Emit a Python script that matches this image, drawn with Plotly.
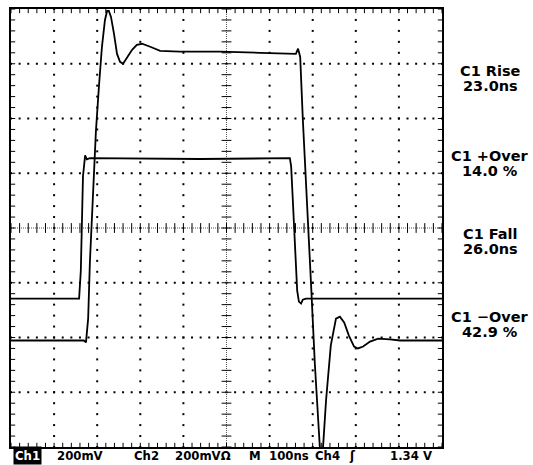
import plotly.graph_objects as go

# scope settings: 100 ns/div, 200 mV/div, 10 x 8 divisions
T_DIV = 100
V_DIV = 200

# channel 1 (large overshoot / undershoot)
ch1_t = [0, 169, 174, 179, 183, 188, 193, 197, 204, 211, 218, 223, 227, 232, 239, 246,
         253, 260, 269, 281, 292, 304, 323, 346, 392, 485, 578, 661, 666, 671, 677, 687,
         696, 705, 715, 719, 724, 731, 742, 754, 763, 773, 784, 796, 805, 817, 833, 852,
         879, 903, 1000]
ch1_v = [-411, -411, -418, -331, -127, 55, 225, 353, 516, 662, 760, 793, 793, 771, 709, 636,
         607, 600, 622, 651, 669, 673, 662, 647, 644, 644, 640, 636, 655, 625, 400, 102,
         -200, -498, -800, -865, -800, -629, -429, -331, -324, -345, -393, -433, -440, -433, -415, -404,
         -407, -411, -411]

# channel 2 (clean pulse)
ch2_t = [0, 158, 162, 165, 167, 172, 176, 183, 439, 647, 650, 654, 659, 664, 668, 673, 677, 684, 1000]
ch2_v = [-258, -258, -156, 25, 189, 265, 251, 255, 252, 255, 225, 98, -84, -229, -269, -276, -262, -258, -258]

# measurement readouts on the right
meas_names = ["C1 Rise", "C1 +Over", "C1 Fall", "C1 \u2212Over"]
meas_values = ["23.0ns", "14.0 %", "26.0ns", "42.9 %"]

# status bar at the bottom
status_items = ["Ch1", "200mV", "Ch2", "200mV\u03a9", "M", "100ns", "Ch4", "\u0283", "1.34 V"]

W, H = 533, 465
L, R, T, B = 11, 442, 7, 447


def px(x):
    return (x - L) / (R - L)


def py(y):
    return (B - y) / (B - T)


fig = go.Figure()

# dotted graticule
gx, gy = [], []
for k in range(-3, 4):
    if k == 0:
        continue
    for m in range(51):
        gx.append(m * T_DIV / 5)
        gy.append(k * V_DIV)
for k in range(1, 10):
    if k == 5:
        continue
    for m in range(41):
        gx.append(k * T_DIV)
        gy.append(-4 * V_DIV + m * V_DIV / 5)
fig.add_trace(go.Scatter(x=gx, y=gy, mode="markers",
                         marker=dict(symbol="square", size=2, color="black", line_width=0),
                         hoverinfo="skip"))

# centre crosshair
fig.add_trace(go.Scatter(x=[0, 10 * T_DIV], y=[0, 0], mode="lines",
                         line=dict(color="#555", width=1, dash="1px,1px"), hoverinfo="skip"))
fig.add_trace(go.Scatter(x=[5 * T_DIV, 5 * T_DIV], y=[-4 * V_DIV, 4 * V_DIV], mode="lines",
                         line=dict(color="#555", width=1, dash="1px,1px"), hoverinfo="skip"))
hx = [m * T_DIV / 5 for m in range(51)]
vy = [-4 * V_DIV + m * V_DIV / 5 for m in range(41)]
tick = dict(color="black", size=7, line=dict(width=1, color="black"))
fig.add_trace(go.Scatter(x=hx, y=[0] * len(hx), mode="markers",
                         marker=dict(symbol="line-ns", **tick), hoverinfo="skip"))
fig.add_trace(go.Scatter(x=[5 * T_DIV] * len(vy), y=vy, mode="markers",
                         marker=dict(symbol="line-ew", **tick), hoverinfo="skip"))

# edge ticks (half clipped by the plot area -> inward ticks)
edge = dict(color="black", size=6, line=dict(width=1, color="black"))
fig.add_trace(go.Scatter(x=hx + hx, y=[4 * V_DIV] * len(hx) + [-4 * V_DIV] * len(hx),
                         mode="markers", marker=dict(symbol="line-ns", **edge), hoverinfo="skip"))
fig.add_trace(go.Scatter(x=[0] * len(vy) + [10 * T_DIV] * len(vy), y=vy + vy,
                         mode="markers", marker=dict(symbol="line-ew", **edge), hoverinfo="skip"))

# waveforms
fig.add_trace(go.Scatter(x=ch2_t, y=ch2_v, mode="lines", line=dict(color="black", width=1.8)))
fig.add_trace(go.Scatter(x=ch1_t, y=ch1_v, mode="lines", line=dict(color="black", width=1.8)))

# measurement text
name_y = [69, 155, 233, 316]
for name, val, yy in zip(meas_names, meas_values, name_y):
    for txt, y0 in ((name, yy), (val, yy + 15)):
        fig.add_annotation(xref="paper", yref="paper", x=px(490), y=py(y0), text=txt,
                           showarrow=False, xanchor="center", yanchor="middle",
                           font=dict(family="DejaVu Sans", size=14.5, color="black", weight="bold"))

# status bar
status_x = [13, 55, 132, 173, 247, 267, 313, 347, 388]
for txt, x0 in zip(status_items, status_x):
    inv = txt == "Ch1"
    fig.add_annotation(xref="paper", yref="paper", x=px(x0), y=py(456), text=txt,
                       showarrow=False, xanchor="left", yanchor="middle",
                       bgcolor="black" if inv else None, borderpad=1,
                       font=dict(family="Liberation Sans Narrow, DejaVu Sans Condensed, Arial Narrow, sans-serif",
                                 size=13, color="white" if inv else "black", weight="bold"))

axis = dict(showgrid=False, zeroline=False, showticklabels=False, ticks="",
            showline=True, mirror=True, linecolor="black", linewidth=2, fixedrange=True)
fig.update_xaxes(range=[0, 10 * T_DIV], **axis)
fig.update_yaxes(range=[-4 * V_DIV, 4 * V_DIV], **axis)
fig.update_layout(width=W, height=H, margin=dict(l=L, r=W - R, t=T, b=H - B),
                  plot_bgcolor="white", paper_bgcolor="white", showlegend=False)

fig.write_html("out.html", post_script="document.body.style.margin='0';",
               config={"displayModeBar": False})
